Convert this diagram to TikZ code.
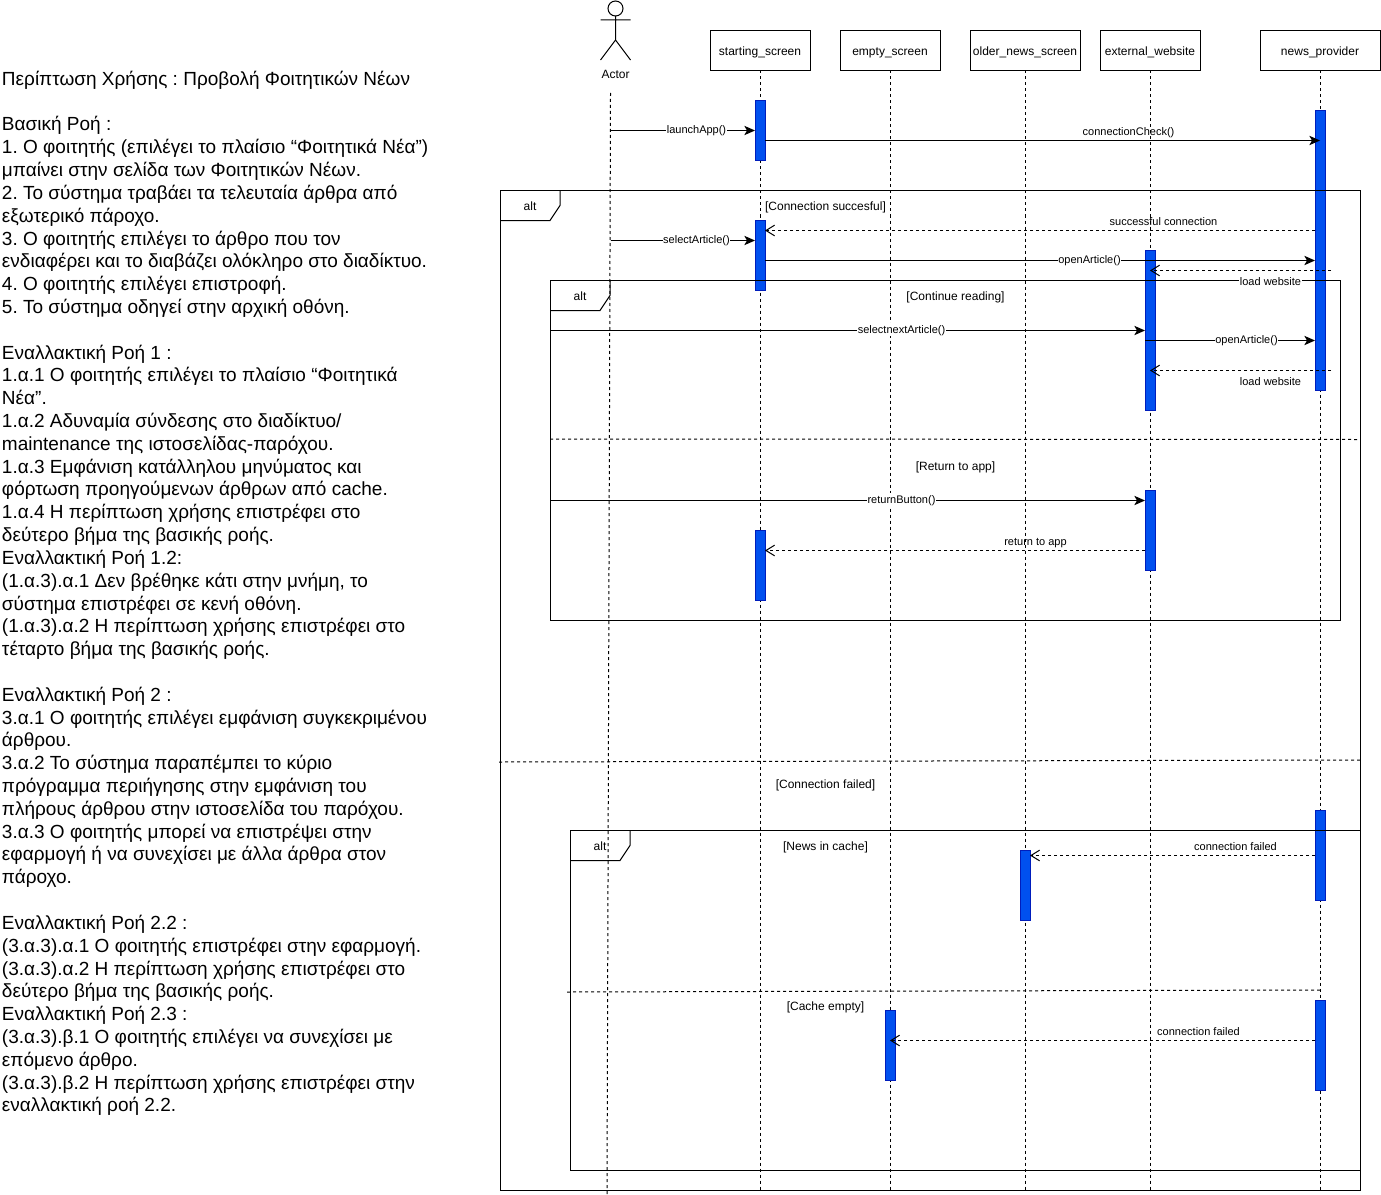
\documentclass[tikz,border=0pt]{standalone}
\usepackage{fontspec}
\setmainfont{Liberation Sans}
\usetikzlibrary{arrows.meta}
\definecolor{barfill}{HTML}{0050EF}
\definecolor{barline}{HTML}{001DBC}
\newcommand{\pxu}{0.75pt}
\tikzset{
  every node/.style={inner sep=0pt,outer sep=0pt},
  stroke/.style={draw=black,line width=\pxu},
  dashline/.style={stroke,dash pattern=on 2.25pt off 2.25pt},
  bigtext/.style={font=\fontsize{9}{11}\selectfont,text height=9.4pt,text depth=1.9pt},
  smalltext/.style={font=\fontsize{8.25}{10}\selectfont,text height=7.47pt,text depth=1.75pt},
  headbox/.style={stroke,fill=white,minimum height=40*\pxu,bigtext},
  actbar/.style={draw=barline,fill=barfill,line width=\pxu,minimum width=10*\pxu},
  msg/.style={stroke,-{Stealth[length=8pt,width=7pt,inset=2pt]}},
  ret/.style={dashline,-{Straight Barb[length=6.5pt,width=8pt]}},
  lab/.style={smalltext,fill=white,inner sep=0.4pt},
  msgtext/.style={smalltext},
  guard/.style={bigtext},
}
\begin{document}
\begin{tikzpicture}[x=0.75pt,y=-0.75pt]
\useasboundingbox (0,0) rectangle (1381,1195);

% description text
\node[anchor=north west,align=left,font=\frenchspacing\fontsize{14.25}{17.11}\selectfont] (story) at (2,71) {%
Περίπτωση Χρήσης : Προβολή Φοιτητικών Νέων\\
\mbox{}\\
Βασική Ροή :\\
1. Ο φοιτητής (επιλέγει το πλαίσιο “Φοιτητικά Νέα”)\\
μπαίνει στην σελίδα των Φοιτητικών Νέων.\\
2. Το σύστημα τραβάει τα τελευταία άρθρα από\\
εξωτερικό πάροχο.\\
3. Ο φοιτητής επιλέγει το άρθρο που τον\\
ενδιαφέρει και το διαβάζει ολόκληρο στο διαδίκτυο.\\
4. Ο φοιτητής επιλέγει επιστροφή.\\
5. Το σύστημα οδηγεί στην αρχική οθόνη.\\
\mbox{}\\
Εναλλακτική Ροή 1 :\\
1.α.1 Ο φοιτητής επιλέγει το πλαίσιο “Φοιτητικά\\
Νέα”.\\
1.α.2 Αδυναμία σύνδεσης στο διαδίκτυο/\\
maintenance της ιστοσελίδας-παρόχου.\\
1.α.3 Εμφάνιση κατάλληλου μηνύματος και\\
φόρτωση προηγούμενων άρθρων από cache.\\
1.α.4 Η περίπτωση χρήσης επιστρέφει στο\\
δεύτερο βήμα της βασικής ροής.\\
Εναλλακτική Ροή 1.2:\\
(1.α.3).α.1 Δεν βρέθηκε κάτι στην μνήμη, το\\
σύστημα επιστρέφει σε κενή οθόνη.\\
(1.α.3).α.2 Η περίπτωση χρήσης επιστρέφει στο\\
τέταρτο βήμα της βασικής ροής.\\
\mbox{}\\
Εναλλακτική Ροή 2 :\\
3.α.1 Ο φοιτητής επιλέγει εμφάνιση συγκεκριμένου\\
άρθρου.\\
3.α.2 Το σύστημα παραπέμπει το κύριο\\
πρόγραμμα περιήγησης στην εμφάνιση του\\
πλήρους άρθρου στην ιστοσελίδα του παρόχου.\\
3.α.3 Ο φοιτητής μπορεί να επιστρέψει στην\\
εφαρμογή ή να συνεχίσει με άλλα άρθρα στον\\
πάροχο.\\
\mbox{}\\
Εναλλακτική Ροή 2.2 :\\
(3.α.3).α.1 Ο φοιτητής επιστρέφει στην εφαρμογή.\\
(3.α.3).α.2 Η περίπτωση χρήσης επιστρέφει στο\\
δεύτερο βήμα της βασικής ροής.\\
Εναλλακτική Ροή 2.3 :\\
(3.α.3).β.1 Ο φοιτητής επιλέγει να συνεχίσει με\\
επόμενο άρθρο.\\
(3.α.3).β.2 Η περίπτωση χρήσης επιστρέφει στην\\
εναλλακτική ροή 2.2.};

% lifeline heads
\node[headbox,minimum width=100*\pxu] (start) at (760,50.5) {starting\_screen};
\node[headbox,minimum width=100*\pxu] (empty) at (890,50.5) {empty\_screen};
\node[headbox,minimum width=110*\pxu] (older) at (1025,50.5) {older\_news\_screen};
\node[headbox,minimum width=100*\pxu] (ext) at (1150,50.5) {external\_website};
\node[headbox,minimum width=120*\pxu] (news) at (1320,50.5) {news\_provider};

% actor
\node[stroke,circle,minimum size=15*\pxu] (actorhead) at (615.5,8.5) {};
\coordinate (hip) at (615.5,40);
\coordinate (armL) at (600.5,20);
\coordinate (armR) at (630.5,20);
\coordinate (legL) at (600.5,60);
\coordinate (legR) at (630.5,60);
\draw[stroke] (actorhead) -- (hip) (armL) -- (armR) (legL) -- (hip) -- (legR);
\node[guard] (actorlab) at (615.5,73.5) {Actor};

% lifelines
\coordinate (actorTop) at (610.5,93);
\coordinate (actorBot) at (607,1195);
\draw[dashline] (actorTop) -- (actorBot);
\coordinate (startEnd) at (760,1190);
\coordinate (emptyEnd) at (890,1190);
\coordinate (olderEnd) at (1025,1190);
\coordinate (extEnd) at (1150,1190);
\coordinate (newsEnd) at (1320,1190);
\draw[dashline] (start) -- (startEnd);
\draw[dashline] (empty) -- (emptyEnd);
\draw[dashline] (older) -- (olderEnd);
\draw[dashline] (ext) -- (extEnd);
\draw[dashline] (news) -- (newsEnd);

% activation bars
\node[actbar,minimum height=60*\pxu] (s1) at (760,130.5) {};
\node[actbar,minimum height=70*\pxu] (s2) at (760,255.5) {};
\node[actbar,minimum height=70*\pxu] (s3) at (760,565.5) {};
\node[actbar,minimum height=280*\pxu] (n1) at (1320,250.5) {};
\node[actbar,minimum height=160*\pxu] (e1) at (1150,330.5) {};
\node[actbar,minimum height=80*\pxu] (e2) at (1150,530.5) {};
\node[actbar,minimum height=70*\pxu] (o1) at (1025,885.5) {};
\node[actbar,minimum height=90*\pxu] (n2) at (1320,855.5) {};
\node[actbar,minimum height=70*\pxu] (m1) at (890,1045.5) {};
\node[actbar,minimum height=90*\pxu] (n3) at (1320,1045.5) {};

% frames
\coordinate (f1a) at (500,190.5); \coordinate (f1b) at (1360,1190.5);
\coordinate (f2a) at (550,280.5); \coordinate (f2b) at (1340,620.5);
\coordinate (f3a) at (570,830.5); \coordinate (f3b) at (1360,1170.5);
\draw[stroke] (f1a) rectangle (f1b);
\draw[stroke] (f2a) rectangle (f2b);
\draw[stroke] (f3a) rectangle (f3b);
\draw[stroke] (560,190.5) -- (560,205.5) -- (550,220.5) -- (500,220.5);
\draw[stroke] (610,280.5) -- (610,295.5) -- (600,310.5) -- (550,310.5);
\draw[stroke] (630,830.5) -- (630,845.5) -- (620,860.5) -- (570,860.5);
\node[guard] (alt1) at (530,205.5) {alt};
\node[guard] (alt2) at (580,295.5) {alt};
\node[guard] (alt3) at (600,845.5) {alt};

% operand separators
\coordinate (d1a) at (550,439); \coordinate (d1b) at (1358,439.5);
\coordinate (d2a) at (499,762); \coordinate (d2b) at (1360,760);
\coordinate (d3a) at (567,992); \coordinate (d3b) at (1320,990);
\draw[dashline] (d1a) -- (d1b);
\draw[dashline] (d2a) -- (d2b);
\draw[dashline] (d3a) -- (d3b);

% guards
\node[guard] (g1) at (825.5,205.5) {[Connection succesful]};
\node[guard] (g2) at (955.5,295.5) {[Continue reading]};
\node[guard] (g3) at (955.5,465.5) {[Return to app]};
\node[guard] (g4) at (825.5,783.5) {[Connection failed]};
\node[guard] (g5) at (825.5,845.5) {[News in cache]};
\node[guard] (g6) at (825.5,1005.5) {[Cache empty]};

% messages
\coordinate (p1) at (610.5,130.5);
\draw[msg] (p1) -- (s1.west |- p1);
\node[lab] (l1) at (696.5,129.5) {launchApp()};

\coordinate (p2) at (765,140.5);
\draw[msg] (p2) -- (n1.center |- p2);
\node[msgtext] (l2) at (1128.5,131.5) {connectionCheck()};

\coordinate (p3) at (1315,230.5);
\draw[ret] (p3) -- (s2.east |- p3);
\node[msgtext] (l3) at (1163.5,221.5) {successful connection};

\coordinate (p4) at (610.5,240.5);
\draw[msg] (p4) -- (s2.west |- p4);
\node[lab] (l4) at (696.5,239.5) {selectArticle()};

\coordinate (p5) at (765,260.5);
\draw[msg] (p5) -- (n1.west |- p5);
\node[lab] (l5) at (1089.5,259.5) {openArticle()};

\coordinate (p6) at (1331,270.5);
\draw[ret] (p6) -- (e1.center |- p6);
\node[lab] (l6) at (1270.5,281.5) {load website};

\coordinate (p7) at (550,330.5);
\draw[msg] (p7) -- (e1.west |- p7);
\node[lab] (l7) at (901.5,329.5) {selectnextArticle()};

\coordinate (p8) at (1145,340.5);
\draw[msg] (p8) -- (n1.west |- p8);
\node[lab] (l8) at (1246.5,339.5) {openArticle()};

\coordinate (p9) at (1331,370.5);
\draw[ret] (p9) -- (e1.center |- p9);
\node[msgtext] (l9) at (1270.5,381.5) {load website};

\coordinate (p10) at (550,500.5);
\draw[msg] (p10) -- (e2.west |- p10);
\node[lab] (l10) at (901.5,499.5) {returnButton()};

\coordinate (p11) at (1145,550.5);
\draw[ret] (p11) -- (s3.east |- p11);
\node[msgtext] (l11) at (1035.5,541.5) {return to app};

\coordinate (p12) at (1315,855.5);
\draw[ret] (p12) -- (o1.east |- p12);
\node[msgtext] (l12) at (1235.5,846.5) {connection failed};

\coordinate (p13) at (1315,1040.5);
\draw[ret] (p13) -- (m1.center |- p13);
\node[msgtext] (l13) at (1198.5,1031.5) {connection failed};
\end{tikzpicture}
\end{document}
